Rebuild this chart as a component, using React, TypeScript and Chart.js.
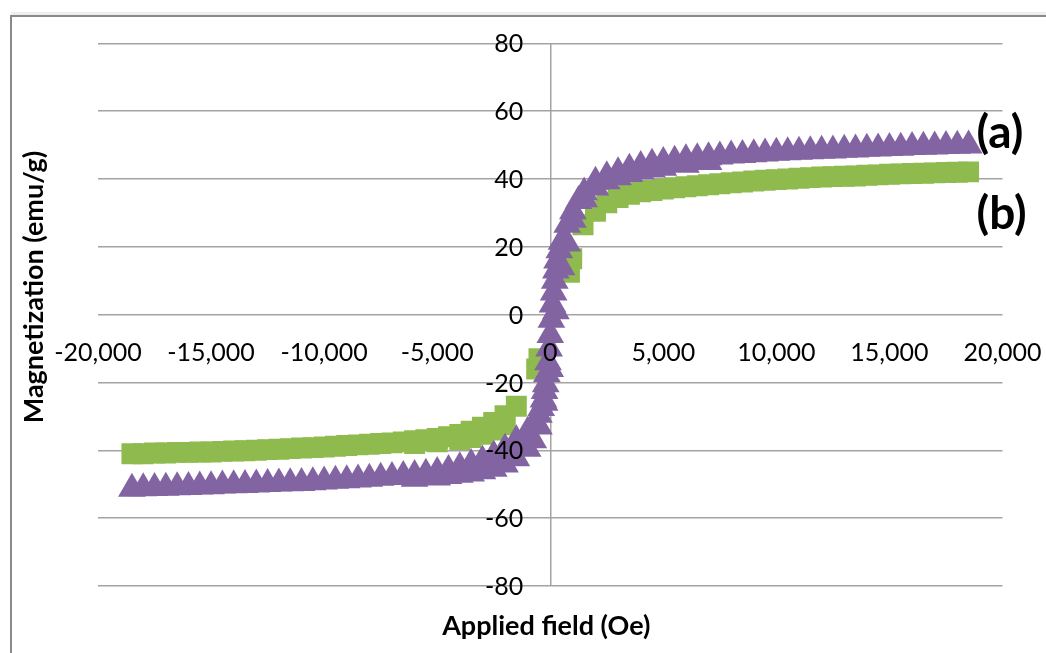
import { useEffect, useRef } from 'react';
import { Chart, registerables } from 'chart.js';

Chart.register(...registerables);

// Sample (a): main sweep, applied field (Oe)
const fieldA = [
  -18500, -18000, -17500, -17000, -16500, -16000, -15500, -15000, -14500, -14000,
  -13500, -13000, -12500, -12000, -11500, -11000, -10500, -10000, -9500, -9000,
  -8500, -8000, -7500, -7000, -6500, -6000, -5500, -5000, -4500, -4000,
  -3500, -3000, -2500, -2000, -1500, -1000, -750, -500, -400, -300,
  -250, -200, -150, -100, -50, 0, 50, 100, 150, 200,
  250, 300, 400, 500, 750, 1000, 1250, 1500,
  2000, 2500, 3000, 3500, 4000, 4500, 5000, 5500, 6000, 6500,
  7000, 7500, 8000, 8500, 9000, 9500, 10000, 10500, 11000, 11500,
  12000, 12500, 13000, 13500, 14000, 14500, 15000, 15500, 16000, 16500,
  17000, 17500, 18000, 18500,
];
// Sample (a): main sweep, magnetization (emu/g)
const magA = [
  -51.3, -51.2, -51.1, -51.0, -50.9, -50.8, -50.7, -50.6, -50.4, -50.3,
  -50.2, -50.1, -49.9, -49.8, -49.7, -49.6, -49.4, -49.2, -49.0, -48.8,
  -48.6, -48.4, -48.1, -47.9, -47.6, -47.3, -46.9, -46.4, -45.8, -45.0,
  -44.0, -43.0, -41.5, -39.5, -37.0, -34.5, -32.5, -29.5, -27.5, -25.0,
  -22.5, -20.5, -17.5, -14.0, -10.0, -6.0, -1.5, 3.0, 6.5, 10.0,
  13.0, 16.0, 19.0, 21.5, 26.5, 30.5, 33.5, 36.0,
  39.2, 40.8, 42.0, 43.0, 43.8, 44.5, 45.0, 45.4, 45.8, 46.1,
  46.4, 46.6, 46.9, 47.1, 47.3, 47.5, 47.7, 47.9, 48.0, 48.2,
  48.3, 48.4, 48.6, 48.7, 48.9, 49.0, 49.1, 49.2, 49.4, 49.5,
  49.6, 49.7, 49.8, 49.9,
];
// Sample (a): return branch around the knee
const fieldA2 = [
  -6000, -5000, -4500, -4000, -3500, -3000, -2500, -2000, -1500, -1000,
  -750, -500, -250, 0, 250, 500, 750, 1000, 1500, 2000,
  2500, 3000, 3500, 4000, 4500, 5000, 6000, 7000,
];
const magA2 = [
  -48.4, -48.0, -47.6, -47.2, -46.8, -46.2, -45.4, -44.2, -42.3, -39.5,
  -37.0, -33.0, -26.0, -16.0, 1.0, 14.0, 21.0, 28.0, 34.0, 37.5,
  39.3, 40.5, 41.5, 42.2, 42.8, 43.3, 44.2, 45.0,
];

// Sample (b): main sweep, applied field (Oe)
const fieldB = [
  -18500, -18000, -17500, -17000, -16500, -16000, -15500, -15000, -14500, -14000,
  -13500, -13000, -12500, -12000, -11500, -11000, -10500, -10000, -9500, -9000,
  -8500, -8000, -7500, -7000, -6500, -6000, -5500, -5000, -4500, -4000,
  -3500, -3000, -2500, -2000, -1500, -600, -500, 850, 950, 1450,
  2000, 2500, 3000, 3500, 4000, 4500, 5000, 5500, 6000, 6500,
  7000, 7500, 8000, 8500, 9000, 9500, 10000, 10500, 11000, 11500,
  12000, 12500, 13000, 13500, 14000, 14500, 15000, 15500, 16000, 16500,
  17000, 17500, 18000, 18500,
];
// Sample (b): main sweep, magnetization (emu/g)
const magB = [
  -41.0, -41.0, -40.8, -40.8, -40.6, -40.6, -40.5, -40.5, -40.3, -40.2,
  -40.1, -40.0, -39.8, -39.7, -39.5, -39.3, -39.2, -39.0, -38.8, -38.6,
  -38.4, -38.2, -38.0, -37.8, -37.5, -37.2, -36.9, -36.5, -36.0, -35.3,
  -34.4, -33.2, -31.8, -29.8, -27.0, -16.0, -13.0, 12.5, 16.5, 26.5,
  30.5, 33.0, 34.5, 35.5, 36.2, 36.6, 37.0, 37.4, 37.7, 38.0,
  38.3, 38.6, 38.9, 39.1, 39.4, 39.6, 39.8, 40.0, 40.2, 40.4,
  40.6, 40.7, 40.8, 40.9, 41.1, 41.2, 41.4, 41.5, 41.6, 41.7,
  41.8, 41.9, 42.0, 42.1,
];
// Sample (b): return branch around the knee
const fieldB2 = [-6000, -5000, -4000, -3500, -3000, -2500, -2000];
const magB2 = [-38.0, -37.5, -36.8, -36.2, -35.3, -34.0, -32.5];

const xTickValues = [-20000, -15000, -10000, -5000, 0, 5000, 10000, 15000, 20000];
const xTickLabels = ['-20,000', '-15,000', '-10,000', '-5,000', '0', '5,000', '10,000', '15,000', '20,000'];
const yTickValues = [-80, -60, -40, -20, 0, 20, 40, 60, 80];
const yTickLabels = ['-80', '-60', '-40', '-20', '0', '20', '40', '60', '80'];
const seriesNames = ['(a)', '(b)'];
const xTitle = 'Applied field (Oe)';
const yTitle = 'Magnetization (emu/g)';

const PURPLE = '#8364A3';
const GREEN = '#8FBB4E';
const GRID = '#a3a3a3';
const FONT = 'Lato, "Open Sans", "DejaVu Sans", sans-serif';

const toPoints = (xs: number[], ys: number[]) => xs.map((x, i) => ({ x, y: ys[i] }));

const decorPlugin = {
  id: 'decor',
  beforeDraw(chart: any) {
    const ctx = chart.ctx;
    ctx.save();
    ctx.fillStyle = '#eeeeee';
    ctx.fillRect(11, 12, chart.width, 3);
    ctx.strokeStyle = '#8a8a8a';
    ctx.lineWidth = 2;
    ctx.beginPath();
    ctx.moveTo(11, chart.height + 5);
    ctx.lineTo(11, 16);
    ctx.lineTo(chart.width + 5, 16);
    ctx.stroke();
    ctx.restore();
  },
  afterDatasetsDraw(chart: any) {
    const ctx = chart.ctx;
    const xs = chart.scales.x;
    const ys = chart.scales.y;
    const area = chart.chartArea;
    const x0 = xs.getPixelForValue(0);
    const y0 = ys.getPixelForValue(0);
    ctx.save();
    ctx.fillStyle = '#000';
    ctx.font = `25px ${FONT}`;
    ctx.textAlign = 'right';
    ctx.textBaseline = 'middle';
    yTickValues.forEach((v, i) => {
      ctx.fillText(yTickLabels[i], x0 - 27, ys.getPixelForValue(v) + 1);
    });
    ctx.textAlign = 'center';
    xTickValues.forEach((v, i) => {
      ctx.fillText(xTickLabels[i], xs.getPixelForValue(v), y0 + 38);
    });
    ctx.font = `bold 27px ${FONT}`;
    ctx.fillText(xTitle, (area.left + area.right) / 2 - 4, area.bottom + 40);
    ctx.save();
    ctx.translate(34, 287);
    ctx.rotate(-Math.PI / 2);
    ctx.fillText(yTitle, 0, 0);
    ctx.restore();
    ctx.font = `bold 46px ${FONT}`;
    ctx.textAlign = 'left';
    ctx.fillText(seriesNames[0], area.right - 26, 133);
    ctx.fillText(seriesNames[1], area.right - 26, 214);
    ctx.restore();
  },
};

export default function App() {
  const canvasRef = useRef<HTMLCanvasElement | null>(null);

  useEffect(() => {
    if (!canvasRef.current) return;
    const chart = new Chart(canvasRef.current, {
      type: 'scatter',
      data: {
        datasets: [
          {
            label: seriesNames[0],
            data: [...toPoints(fieldA, magA), ...toPoints(fieldA2, magA2)],
            pointStyle: 'triangle',
            pointRadius: 16,
            pointHoverRadius: 16,
            backgroundColor: PURPLE,
            borderColor: PURPLE,
            borderWidth: 0,
            showLine: false,
          },
          {
            label: seriesNames[1],
            data: [...toPoints(fieldB, magB), ...toPoints(fieldB2, magB2)],
            pointStyle: 'rect',
            pointRadius: 14.8,
            pointHoverRadius: 14.8,
            backgroundColor: GREEN,
            borderColor: GREEN,
            borderWidth: 0,
            showLine: false,
          },
        ],
      },
      options: {
        animation: false,
        responsive: false,
        devicePixelRatio: 1,
        layout: { padding: { left: 98, right: 43.5, top: 43.3, bottom: 67 } },
        plugins: {
          legend: { display: false },
          tooltip: { enabled: false },
          title: { display: false },
        },
        scales: {
          x: {
            type: 'linear',
            min: -20000,
            max: 20000,
            ticks: { display: false, stepSize: 5000 },
            border: { display: false },
            grid: {
              drawTicks: false,
              lineWidth: 1.5,
              color: (c: any) => (c.tick && c.tick.value === 0 ? GRID : 'rgba(0,0,0,0)'),
            },
            title: { display: false },
          },
          y: {
            type: 'linear',
            min: -80,
            max: 80,
            ticks: { display: false, stepSize: 20 },
            border: { display: false },
            grid: { drawTicks: false, lineWidth: 1.5, color: GRID },
            title: { display: false },
          },
        },
      },
      plugins: [decorPlugin],
    });
    return () => chart.destroy();
  }, []);

  return (
    <div style={{ position: 'absolute', left: 0, top: 0, width: 1046, height: 653, background: '#fff' }}>
      <canvas ref={canvasRef} width={1046} height={653} style={{ width: 1046, height: 653 }} />
    </div>
  );
}
